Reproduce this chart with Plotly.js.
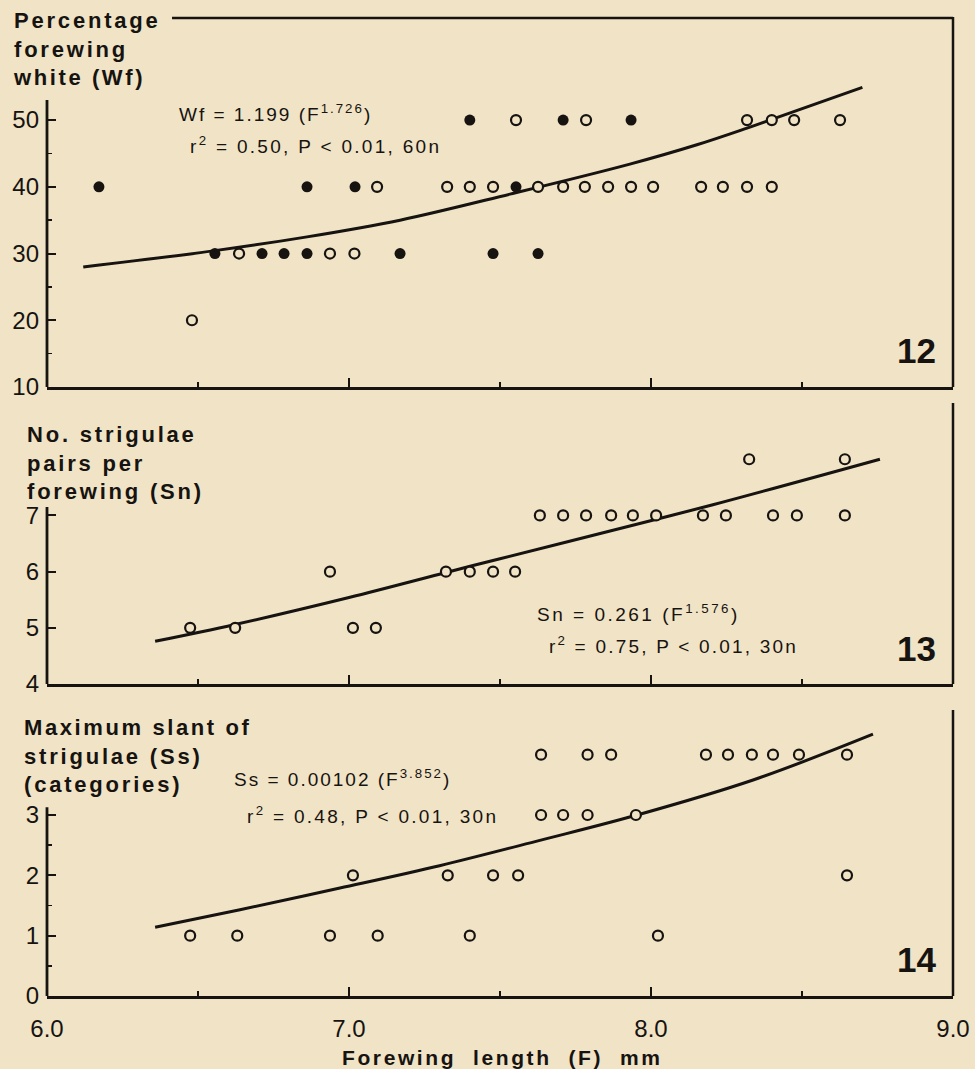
<!DOCTYPE html>
<html>
<head>
<meta charset="utf-8">
<script src="https://cdn.plot.ly/plotly-3.0.1.min.js"></script>
<style>html,body{margin:0;padding:0;background:#f0e3c6;}</style>
</head>
<body>
<div id="chart" style="width:975px;height:1069px;"></div>
<script>
// ---------- Panel 12: Percentage forewing white (Wf) ----------
const wfOpenF  = [7.553, 7.785, 8.318, 8.400, 8.474, 8.626,
                  7.093, 7.325, 7.400, 7.477, 7.626, 7.709, 7.781, 7.858, 7.934, 8.007, 8.166, 8.238, 8.318, 8.400,
                  6.636, 6.937, 7.018,
                  6.480];
const wfOpenV  = [50, 50, 50, 50, 50, 50,
                  40, 40, 40, 40, 40, 40, 40, 40, 40, 40, 40, 40, 40, 40,
                  30, 30, 30,
                  20];
const wfFillF  = [7.400, 7.709, 7.934,
                  6.172, 6.861, 7.020, 7.553,
                  6.556, 6.712, 6.785, 6.861, 7.169, 7.477, 7.626];
const wfFillV  = [50, 50, 50,
                  40, 40, 40, 40,
                  30, 30, 30, 30, 30, 30, 30];
const wfCurveF = [6.12, 6.55, 6.861, 7.169, 7.533, 7.93, 8.152, 8.318, 8.40, 8.70];
const wfCurveV = [28.0, 30.4, 32.5, 35.0, 38.9, 43.4, 46.3, 48.8, 50.1, 54.9];

// ---------- Panel 13: No. strigulae pairs per forewing (Sn) ----------
const snF = [6.474, 6.623, 7.013, 7.089,
             6.937, 7.321, 7.400, 7.477, 7.550,
             7.632, 7.709, 7.785, 7.868, 7.940, 8.017, 8.172, 8.248, 8.404, 8.483, 8.642,
             8.325, 8.642];
const snV = [5, 5, 5, 5,
             6, 6, 6, 6, 6,
             7, 7, 7, 7, 7, 7, 7, 7, 7, 7, 7,
             8, 8];
const snCurveF = [6.358, 6.623, 7.0, 7.325, 7.5, 7.907, 8.205, 8.758];
const snCurveV = [4.76, 5.06, 5.54, 5.99, 6.23, 6.78, 7.19, 8.0];

// ---------- Panel 14: Maximum slant of strigulae (Ss) ----------
const ssF = [6.474, 6.630, 6.937, 7.095, 7.400, 8.023,
             7.013, 7.327, 7.477, 7.560, 8.649,
             7.636, 7.709, 7.790, 7.950,
             7.636, 7.790, 7.868, 8.182, 8.255, 8.334, 8.404, 8.490, 8.649];
const ssV = [1, 1, 1, 1, 1, 1,
             2, 2, 2, 2, 2,
             3, 3, 3, 3,
             4, 4, 4, 4, 4, 4, 4, 4, 4];
const ssCurveF = [6.358, 6.639, 6.97, 7.30, 7.632, 7.954, 8.338, 8.735];
const ssCurveV = [1.14, 1.43, 1.79, 2.16, 2.58, 3.0, 3.58, 4.34];

// ---------- Tick labels ----------
const xTicks = [6, 7, 8, 9];
const wfTicks = [10, 20, 30, 40, 50];
const snTicks = [4, 5, 6, 7];
const ssTicks = [0, 1, 2, 3];

const BG = '#f0e3c6';
const INK = '#161310';
const FONT = 'Liberation Sans, Arial, Helvetica, sans-serif';

const openMarker = {symbol: 'circle', size: 10, color: BG, line: {color: INK, width: 2.2}};
const fillMarker = {symbol: 'circle', size: 11, color: INK, line: {color: INK, width: 0}};
const curveLine = {color: INK, width: 3, shape: 'spline', smoothing: 1};

const traces = [
  {x: wfCurveF, y: wfCurveV, xaxis: 'x', yaxis: 'y', mode: 'lines', line: curveLine, hoverinfo: 'skip'},
  {x: wfOpenF, y: wfOpenV, xaxis: 'x', yaxis: 'y', mode: 'markers', marker: openMarker},
  {x: wfFillF, y: wfFillV, xaxis: 'x', yaxis: 'y', mode: 'markers', marker: fillMarker},
  {x: snCurveF, y: snCurveV, xaxis: 'x2', yaxis: 'y2', mode: 'lines', line: curveLine, hoverinfo: 'skip'},
  {x: snF, y: snV, xaxis: 'x2', yaxis: 'y2', mode: 'markers', marker: openMarker},
  {x: ssCurveF, y: ssCurveV, xaxis: 'x3', yaxis: 'y3', mode: 'lines', line: curveLine, hoverinfo: 'skip'},
  {x: ssF, y: ssV, xaxis: 'x3', yaxis: 'y3', mode: 'markers', marker: openMarker}
];

function xAxis(anchor, labels) {
  return {
    anchor: anchor, domain: [0, 1], range: [6, 9],
    tickvals: xTicks, tickformat: '.1f',
    showticklabels: labels,
    ticks: 'inside', ticklen: 9, tickwidth: 2, tickcolor: INK,
    minor: {tickvals: [6.5, 7.5, 8.5], ticks: 'inside', ticklen: 5, tickwidth: 1.5, tickcolor: INK},
    showline: true, linewidth: 2.8, linecolor: INK,
    showgrid: false, zeroline: false,
    ticklabelstandoff: 9,
    tickfont: {family: FONT, size: 24, color: INK}
  };
}
function yAxis(anchor, domain, range, ticks, minorVals) {
  const a = {
    anchor: anchor, domain: domain, range: range,
    tickvals: ticks,
    ticks: 'inside', ticklen: 9, tickwidth: 2, tickcolor: INK,
    showline: false, showgrid: false, zeroline: false,
    ticklabelstandoff: 7,
    tickfont: {family: FONT, size: 24, color: INK}
  };
  if (minorVals) a.minor = {tickvals: minorVals, ticks: 'inside', ticklen: 5, tickwidth: 1.5, tickcolor: INK};
  return a;
}

function frame(xa, ya, x0, y0, x1, y1, w) {
  return {type: 'line', xref: xa + ' domain', yref: ya + ' domain', x0: x0, y0: y0, x1: x1, y1: y1,
          line: {color: INK, width: w}};
}

const shapes = [
  frame('x', 'y', 0.138, 1, 1, 1, 2.5),
  frame('x', 'y', 1, 0, 1, 1.003, 2.5),
  frame('x', 'y', 0, 0, 0, 0.778, 2.8),
  frame('x2', 'y2', 1, 0, 1, 1, 2.5),
  frame('x2', 'y2', 0, 0, 0, 0.63, 2.8),
  frame('x3', 'y3', 1, 0, 1, 1, 2.5),
  frame('x3', 'y3', 0, 0, 0, 0.66, 2.8)
];

function sp(t, ls) { return '<span style="letter-spacing:' + ls + 'px">' + t + '</span>'; }
function ann(xr, yr, x, y, text, size, opts) {
  return Object.assign({xref: xr, yref: yr, x: x, y: y, text: text, showarrow: false,
    xanchor: 'left', yanchor: 'middle', align: 'left',
    font: {family: FONT, size: size, color: INK}}, opts || {});
}
const boldFont = {family: FONT, size: 22, color: INK, weight: 'bold'};
const numFont = {family: 'Liberation Sans Narrow, Arial Narrow, Liberation Sans, Arial, sans-serif', size: 35, color: INK, weight: 'bold'};

const annotations = [
  // axis titles
  ann('paper', 'paper', -0.0397, 0.968,
      sp('Percentage', 2.8) + '<br>' + sp('forewing', 2.8) + '<br>' + sp('white (Wf)', 2.6), 22, {font: boldFont}),
  ann('paper', 'paper', -0.0243, 0.545,
      sp('No. strigulae', 2.8) + '<br>' + sp('pairs per', 2.8) + '<br>' + sp('forewing (Sn)', 2.8), 22, {font: boldFont}),
  ann('paper', 'paper', -0.0276, 0.2454,
      sp('Maximum slant of', 2.6) + '<br>' + sp('strigulae (Ss)', 2.8) + '<br>' + sp('(categories)', 2.8), 22, {font: boldFont}),
  ann('paper', 'paper', 0.503, -0.0624, sp('Forewing  length  (F)  mm', 2.6), 21,
      {xanchor: 'center', font: {family: FONT, size: 21, color: INK, weight: 'bold'}}),
  // equations
  ann('x', 'y', 6.43, 51.05, sp('Wf = 1.199 (F<sup>1.726</sup>)', 2.0), 19),
  ann('x', 'y', 6.467, 46.25, sp('r<sup>2</sup> = 0.50, P &lt; 0.01, 60n', 2.3), 19),
  ann('x2', 'y2', 7.616, 5.26, sp('Sn = 0.261 (F<sup>1.576</sup>)', 2.5), 19),
  ann('x2', 'y2', 7.656, 4.69, sp('r<sup>2</sup> = 0.75, P &lt; 0.01, 30n', 2.2), 19),
  ann('x3', 'y3', 6.613, 3.61, sp('Ss = 0.00102 (F<sup>3.852</sup>)', 2.0), 19),
  ann('x3', 'y3', 6.656, 3.0, sp('r<sup>2</sup> = 0.48, P &lt; 0.01, 30n', 2.3), 19),
  // panel numbers
  ann('x', 'y', 8.88, 15.5, '12', 35, {xanchor: 'center', font: numFont}),
  ann('x2', 'y2', 8.88, 4.64, '13', 35, {xanchor: 'center', font: numFont}),
  ann('x3', 'y3', 8.88, 0.6, '14', 35, {xanchor: 'center', font: numFont})
];

const layout = {
  width: 975, height: 1069,
  margin: {l: 47, r: 22, t: 18, b: 73, pad: 0},
  paper_bgcolor: BG, plot_bgcolor: BG,
  showlegend: false,
  font: {family: FONT, color: INK},
  xaxis: xAxis('y', false),
  xaxis2: xAxis('y2', false),
  xaxis3: xAxis('y3', true),
  yaxis: yAxis('x', [0.6227, 1.0], [10, 65.3], wfTicks, [15, 25, 35, 45]),
  yaxis2: yAxis('x2', [0.319, 0.6063], [4, 9], snTicks, null),
  yaxis3: yAxis('x3', [0, 0.2924], [0, 4.74], ssTicks, [0.5, 1.5, 2.5]),
  shapes: shapes,
  annotations: annotations
};

Plotly.newPlot('chart', traces, layout, {displayModeBar: false, staticPlot: true});
</script>
</body>
</html>
